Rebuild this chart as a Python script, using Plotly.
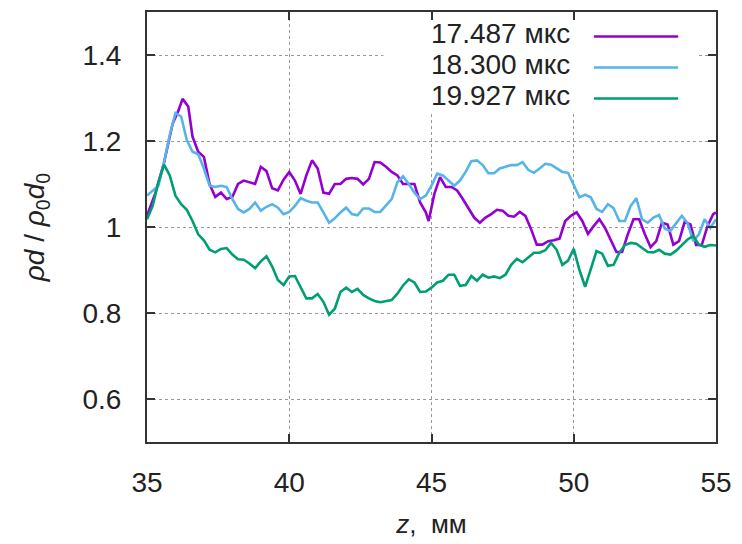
import plotly.graph_objects as go

# ---- data ----
x_a = [35.0, 35.3, 35.6, 35.9, 36.1, 36.25, 36.45, 36.6, 36.8, 37.0, 37.2, 37.4, 37.6, 37.8, 38.0,
       38.2, 38.4, 38.6, 38.8, 39.0, 39.2, 39.4, 39.6, 39.8, 40.0, 40.2, 40.4, 40.6, 40.8, 41.0,
       41.2, 41.4, 41.6, 41.8, 42.0, 42.2, 42.4, 42.6, 42.8, 43.0, 43.2, 43.4, 43.6, 43.8, 44.0,
       44.2, 44.4, 44.6, 44.8, 44.9, 45.1, 45.3, 45.5, 45.7, 45.9, 46.1, 46.3, 46.5, 46.7, 46.9,
       47.1, 47.3, 47.5, 47.7, 47.9, 48.1, 48.3, 48.5, 48.7, 48.9, 49.1, 49.3, 49.5, 49.7, 49.9,
       50.1, 50.3, 50.5, 50.7, 50.9, 51.1, 51.3, 51.5, 51.7, 51.9, 52.1, 52.3, 52.5, 52.7, 52.9,
       53.1, 53.3, 53.5, 53.7, 53.9, 54.1, 54.3, 54.5, 54.7, 54.9, 55.0]
y_a = [1.026, 1.08, 1.15, 1.24, 1.27, 1.298, 1.28, 1.21, 1.175, 1.163, 1.10, 1.07, 1.08, 1.065, 1.07,
       1.10, 1.108, 1.104, 1.10, 1.14, 1.13, 1.09, 1.085, 1.11, 1.128, 1.108, 1.077, 1.12, 1.155, 1.136,
       1.08, 1.077, 1.10, 1.10, 1.112, 1.114, 1.112, 1.099, 1.112, 1.151, 1.15, 1.14, 1.128, 1.12, 1.10,
       1.10, 1.10, 1.057, 1.034, 1.014, 1.077, 1.116, 1.093, 1.093, 1.085, 1.065, 1.042, 1.022, 1.01, 1.022,
       1.03, 1.04, 1.038, 1.026, 1.024, 1.035, 1.026, 0.995, 0.959, 0.959, 0.967, 0.969, 0.973, 1.014, 1.026,
       1.034, 1.014, 0.984, 1.002, 1.018, 0.998, 0.971, 0.942, 0.942, 0.983, 1.018, 1.018, 0.983, 0.953, 0.967,
       1.01, 1.006, 0.959, 0.967, 1.012, 1.006, 0.958, 0.958, 1.002, 1.03, 1.034]

x_b = [35.0, 35.2, 35.4, 35.6, 35.8, 36.0, 36.2, 36.4, 36.6, 36.8, 37.0, 37.2, 37.4, 37.6, 37.8,
       38.0, 38.2, 38.4, 38.6, 38.8, 39.0, 39.2, 39.4, 39.6, 39.8, 40.0, 40.2, 40.4, 40.6, 40.8,
       41.0, 41.2, 41.4, 41.6, 41.8, 42.0, 42.2, 42.4, 42.6, 42.8, 43.0, 43.2, 43.4, 43.6, 43.8,
       44.0, 44.2, 44.4, 44.6, 44.8, 45.0, 45.2, 45.4, 45.6, 45.8, 46.0, 46.2, 46.4, 46.6, 46.8,
       47.0, 47.2, 47.4, 47.6, 47.8, 48.0, 48.2, 48.4, 48.6, 48.8, 49.0, 49.2, 49.4, 49.6, 49.8,
       50.0, 50.2, 50.4, 50.6, 50.8, 51.0, 51.2, 51.4, 51.6, 51.8, 52.0, 52.2, 52.4, 52.6, 52.8,
       53.0, 53.2, 53.4, 53.6, 53.8, 54.0, 54.2, 54.4, 54.6, 54.8, 55.0]
y_b = [1.073, 1.085, 1.096, 1.151, 1.214, 1.265, 1.257, 1.202, 1.175, 1.169, 1.136, 1.096, 1.093, 1.096, 1.093,
       1.065, 1.042, 1.034, 1.042, 1.057, 1.038, 1.047, 1.053, 1.045, 1.03, 1.035, 1.049, 1.067, 1.061, 1.057,
       1.057, 1.034, 1.01, 1.02, 1.034, 1.045, 1.03, 1.027, 1.043, 1.043, 1.035, 1.035, 1.051, 1.065, 1.104,
       1.118, 1.10, 1.08, 1.065, 1.073, 1.096, 1.124, 1.12, 1.108, 1.096, 1.108, 1.128, 1.153, 1.155, 1.144,
       1.125, 1.125, 1.136, 1.14, 1.144, 1.144, 1.151, 1.133, 1.126, 1.136, 1.147, 1.145, 1.137, 1.128, 1.126,
       1.096, 1.069, 1.075, 1.069, 1.042, 1.035, 1.053, 1.044, 1.014, 1.014, 1.049, 1.067, 1.018, 1.01, 1.022,
       1.028, 0.996, 0.991, 1.009, 1.026, 1.009, 0.967, 0.983, 1.018, 0.998, 1.018]

x_c = x_b
y_c = [1.018, 1.049, 1.104, 1.145, 1.12, 1.073, 1.053, 1.04, 1.014, 0.983, 0.969, 0.947, 0.941, 0.949, 0.951,
       0.936, 0.925, 0.924, 0.915, 0.904, 0.92, 0.932, 0.908, 0.877, 0.865, 0.885, 0.886, 0.861, 0.834, 0.834,
       0.844, 0.826, 0.796, 0.81, 0.849, 0.859, 0.849, 0.856, 0.842, 0.834, 0.828, 0.825, 0.828, 0.83, 0.845,
       0.864, 0.878, 0.871, 0.849, 0.85, 0.859, 0.871, 0.875, 0.889, 0.889, 0.863, 0.865, 0.886, 0.875, 0.889,
       0.882, 0.885, 0.881, 0.889, 0.912, 0.926, 0.918, 0.928, 0.94, 0.94, 0.946, 0.963, 0.947, 0.912, 0.922,
       0.949, 0.90, 0.861, 0.904, 0.944, 0.938, 0.91, 0.912, 0.94, 0.958, 0.963, 0.961, 0.951, 0.942, 0.941,
       0.947, 0.938, 0.936, 0.945, 0.957, 0.971, 0.979, 0.959, 0.954, 0.958, 0.957]

names = ["17.487 мкс", "18.300 мкс", "19.927 мкс"]
colors = ["#9400d3", "#56b4e9", "#009e73"]
y_ticks = [0.6, 0.8, 1.0, 1.2, 1.4]
y_tick_text = ["0.6", "0.8", "1", "1.2", "1.4"]
x_ticks = [35, 40, 45, 50, 55]

TICKFONT = "Liberation Sans Narrow, Liberation Sans, Arial, sans-serif"
TXTFONT = "Liberation Sans, Arial, sans-serif"

fig = go.Figure()
for xs, ys, nm, c in zip([x_a, x_b, x_c], [y_a, y_b, y_c], names, colors):
    fig.add_trace(go.Scatter(x=xs, y=ys, mode="lines", name=nm,
                             line=dict(color=c, width=2.6), showlegend=False))

# manual legend (gnuplot style: text right, sample on right)
fig.add_shape(type="rect", xref="x", yref="y", x0=43.31, x1=54.37, y0=1.264, y1=1.5,
              fillcolor="white", line=dict(width=0), layer="between")
leg_y = [1.45, 1.378, 1.306]
for nm, c, ly in zip(names, colors, leg_y):
    fig.add_annotation(x=49.94, y=ly, xref="x", yref="y", text=nm, showarrow=False,
                       xanchor="right", yanchor="middle",
                       font=dict(family=TXTFONT, size=28, color="#222"))
    fig.add_shape(type="line", xref="x", yref="y", x0=50.71, x1=53.67, y0=ly - 0.007, y1=ly - 0.007,
                  line=dict(color=c, width=2.6), layer="above")

axis_common = dict(showline=True, linecolor="#333", linewidth=2, mirror="ticks",
                   ticks="inside", ticklen=8, tickwidth=2, tickcolor="#333",
                   showgrid=True, gridcolor="#999", gridwidth=1, griddash="dot",
                   zeroline=False,
                   tickfont=dict(family=TICKFONT, size=28, color="#222"))

fig.update_xaxes(range=[35, 55], tickvals=x_ticks, ticklabelstandoff=14,
                 title=dict(text="<i>z</i>,  мм", font=dict(family=TXTFONT, size=26, color="#222"),
                            standoff=18),
                 **axis_common)
fig.update_yaxes(range=[0.5, 1.5], tickvals=y_ticks, ticktext=y_tick_text, ticklabelstandoff=18,
                 title=dict(text="<i>ρd</i> / <i>ρ</i><sub>0</sub><i>d</i><sub>0</sub>",
                            font=dict(family=TXTFONT, size=28, color="#222"), standoff=30),
                 **axis_common)

fig.update_layout(width=742, height=544, margin=dict(l=147, r=22, t=10, b=93),
                  plot_bgcolor="white", paper_bgcolor="white", showlegend=False)

fig.write_html("out.html")
